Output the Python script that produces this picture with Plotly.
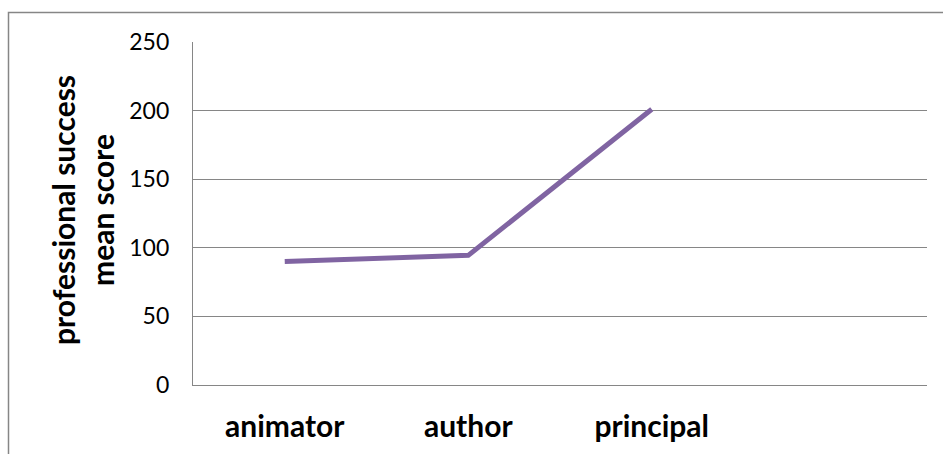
import plotly.graph_objects as go

categories = ["animator", "author", "principal"]
mean_scores = [90, 94.5, 201]
y_ticks = [0, 50, 100, 150, 200, 250]

W, H = 943, 454
L, R, T, B = 193, 16, 42, 69
pw, ph = W - L - R, H - T - B

FONT = "Lato"
GRID = "#868686"

fig = go.Figure()
fig.add_trace(go.Scatter(
    x=categories, y=mean_scores, mode="lines",
    line=dict(color="#8064A2", width=5), showlegend=False,
))

def px_x(p):
    return (p - L) / pw

def px_y(p):
    return (H - B - p) / ph

fig.update_layout(
    width=W, height=H,
    margin=dict(l=L, r=R, t=T, b=B, pad=0),
    paper_bgcolor="white", plot_bgcolor="white",
    font=dict(family=FONT, color="black", size=24),
    xaxis=dict(
        type="category", range=[-0.5, 3.5],
        showgrid=False, showline=True, linecolor=GRID, linewidth=1.2,
        ticks="outside", ticklen=15, tickcolor="rgba(0,0,0,0)",
        tickfont=dict(family=FONT, size=30, color="black", weight="bold"),
        zeroline=False,
    ),
    yaxis=dict(
        range=[0, 250], tickvals=y_ticks,
        showgrid=True, gridcolor=GRID, gridwidth=1.2,
        showline=True, linecolor=GRID, linewidth=1.2,
        ticks="outside", ticklen=18, tickcolor="rgba(0,0,0,0)",
        tickfont=dict(family=FONT, size=23, color="black"),
        zeroline=False,
    ),
    shapes=[dict(
        type="rect", xref="paper", yref="paper",
        x0=px_x(8.5), x1=px_x(960), y0=px_y(470), y1=px_y(12.5),
        line=dict(color=GRID, width=1.5), fillcolor="rgba(0,0,0,0)", layer="below",
    )],
    annotations=[dict(
        text="professional success<br>mean score", textangle=-90,
        xref="paper", yref="paper", x=px_x(82), y=px_y(210),
        xanchor="center", yanchor="middle", showarrow=False,
        font=dict(family=FONT, size=30, color="black", weight="bold"),
    )],
)

fig.write_html("out.html")
